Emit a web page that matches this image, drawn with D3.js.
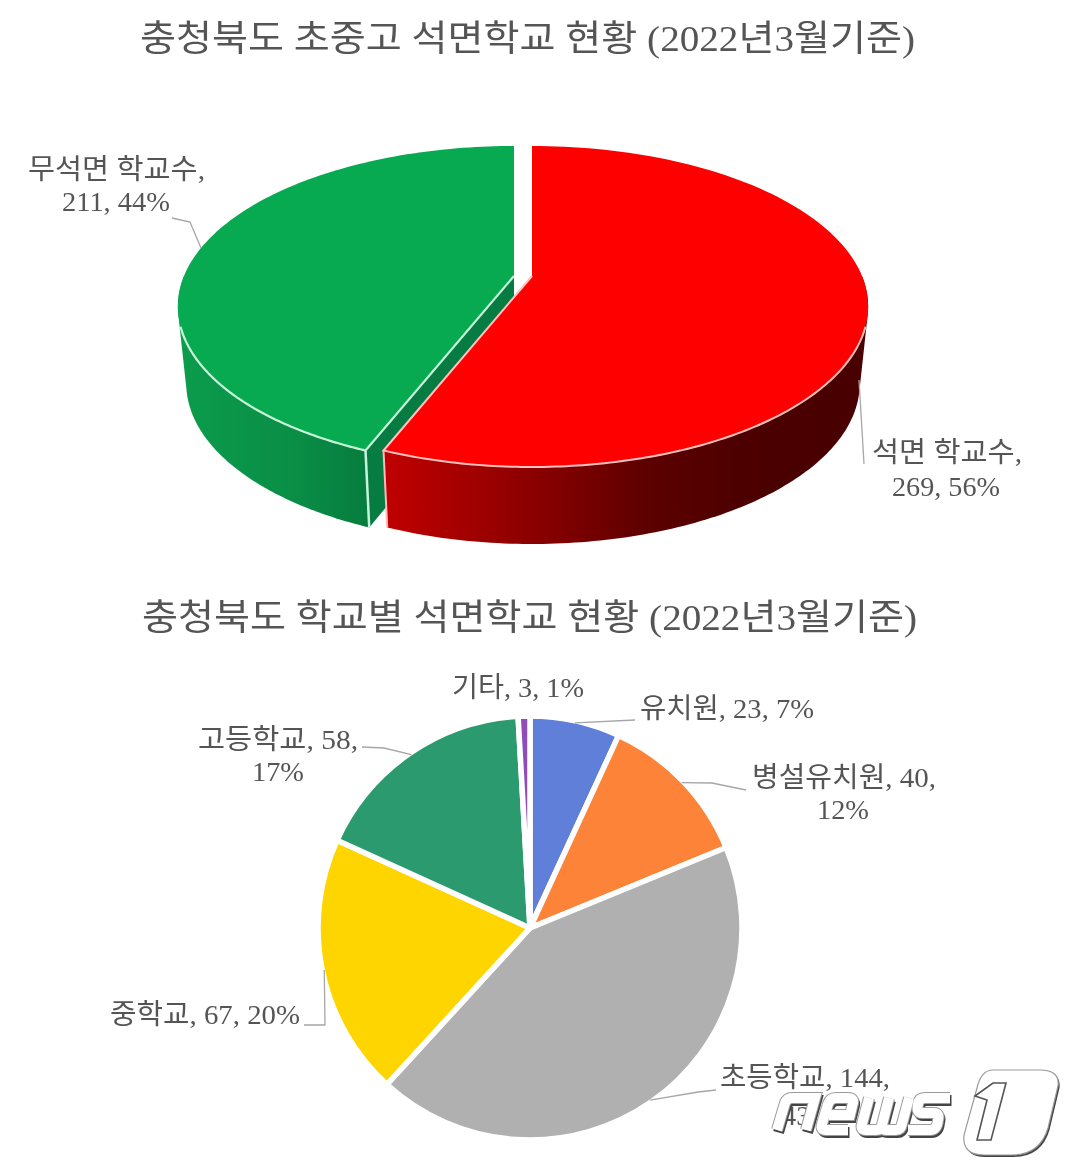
<!DOCTYPE html>
<html>
<head>
<meta charset="utf-8">
<script src="https://cdn.jsdelivr.net/npm/d3@7/dist/d3.min.js"></script>
<style>
html, body { margin: 0; padding: 0; background: #fff; }
svg { display: block; filter: blur(0.5px); }
text { font-family: "Liberation Serif", "Noto Sans CJK KR", serif; fill: #555; }
</style>
</head>
<body>
<svg id="chart" width="1065" height="1167"></svg>
<script>
const topCategories = ["석면 학교수", "무석면 학교수"];
const topValues = [269, 211];
const topPercents = [56, 44];
const topColors = ["#fe0000", "#07aa50"];

const schoolCategories = ["유치원", "병설유치원", "초등학교", "중학교", "고등학교", "기타"];
const schoolValues = [23, 40, 144, 67, 58, 3];
const schoolPercents = [7, 12, 43, 20, 17, 1];
const schoolColors = ["#5f7fd8", "#fd8339", "#b0b0b0", "#ffd500", "#2b9a6f", "#8f4db8"];

const svg = d3.select("#chart");
const defs = svg.append("defs");

const title = (s, x, y, w) => svg.append("text")
    .attr("x", x).attr("y", y)
    .attr("textLength", w).attr("lengthAdjust", "spacingAndGlyphs")
    .style("font-size", "36px")
    .text(s);

title("충청북도 초중고 석면학교 현황 (2022년3월기준)", 140, 51, 775);
title("충청북도 학교별 석면학교 현황 (2022년3월기준)", 142, 630, 775);

// text label, one entry per line: [string, left x, baseline y, width]
const label = (lines) => lines.forEach(l => {
    svg.append("text")
        .attr("x", l[1]).attr("y", l[2])
        .attr("textLength", l[3]).attr("lengthAdjust", "spacingAndGlyphs")
        .style("font-size", "28px")
        .text(l[0]);
});

const leader = (pts) => svg.append("path")
    .attr("d", d3.line()(pts))
    .attr("fill", "none")
    .attr("stroke", "#a6a6a6")
    .attr("stroke-width", 1.3);

// ---- top pie, tilted with a bit of perspective
const tilt = { apexY: 276, a: 330, k: 154.7, p: 0.19, depth: 77, shrink: 0.975 };
const project = (cx, ang, s, dy) => {
    const v = Math.cos(ang);
    const u = Math.sin(ang);
    const w = 1 + tilt.p * v;
    return [cx + s * tilt.a * u / w, tilt.apexY - tilt.k * v / w + dy];
};
const rim = (cx, a0, a1) => d3.range(0, 121).map(i =>
    project(cx, a0 + (a1 - a0) * i / 120, 1, 0));
const rimLow = (cx, a0, a1) => d3.range(0, 121).map(i =>
    project(cx, a0 + (a1 - a0) * i / 120, tilt.shrink, tilt.depth));

const topArcs = d3.pie().sort(null)(topValues);
const line = d3.line();
const topCx = [532, 514];

const grad = (id, stops, x1, x2) => {
    const g = defs.append("linearGradient").attr("id", id)
        .attr("gradientUnits", "userSpaceOnUse")
        .attr("x1", x1).attr("x2", x2).attr("y1", 0).attr("y2", 0);
    stops.forEach(s => g.append("stop").attr("offset", s[0]).attr("stop-color", s[1]));
};
grad("redWall", [[0, "#c00000"], [0.3, "#8c0000"], [0.55, "#5c0000"], [0.75, "#4c0000"], [1, "#480000"]], 385, 868);
grad("greenWall", [[0, "#0b9c4c"], [0.6, "#0a8e46"], [1, "#067c3e"]], 178, 370);

// green first: the red slice sits in front of its cut face
{
    const d = topArcs[1], cx = topCx[1];
    const hull = d3.polygonHull(rim(cx, d.startAngle, Math.PI * 1.5).concat(rimLow(cx, d.startAngle, Math.PI * 1.5)));
    svg.append("path").attr("d", line(hull) + "Z").attr("fill", "url(#greenWall)");
    const apex = [cx, tilt.apexY];
    const p0 = project(cx, d.startAngle, 1, 0);
    const p0Low = project(cx, d.startAngle, tilt.shrink, tilt.depth);
    svg.append("path")
        .attr("d", line([apex, p0, p0Low, [apex[0], apex[1] + tilt.depth]]) + "Z")
        .attr("fill", "#067c42");
    svg.append("path").attr("d", line([p0, p0Low]))
        .attr("stroke", "#c8f5da").attr("stroke-width", 2.5).attr("fill", "none");
    svg.append("path").attr("d", line([apex].concat(rim(cx, d.startAngle, d.endAngle))) + "Z")
        .attr("fill", topColors[1]);
    svg.append("path").attr("d", line([apex].concat(rim(cx, d.startAngle, Math.PI * 1.4))))
        .attr("fill", "none").attr("stroke", "#c8f5da").attr("stroke-width", 2.2);
}
{
    const d = topArcs[0], cx = topCx[0];
    const hull = d3.polygonHull(rim(cx, Math.PI * 0.5, d.endAngle).concat(rimLow(cx, Math.PI * 0.5, d.endAngle)));
    svg.append("path").attr("d", line(hull) + "Z").attr("fill", "url(#redWall)");
    const p1 = project(cx, d.endAngle, 1, 0);
    const p1Low = project(cx, d.endAngle, tilt.shrink, tilt.depth);
    svg.append("path").attr("d", line([p1, p1Low]))
        .attr("stroke", "#ffb8b8").attr("stroke-width", 2).attr("fill", "none");
    svg.append("path").attr("d", line([[cx, tilt.apexY]].concat(rim(cx, d.startAngle, d.endAngle))) + "Z")
        .attr("fill", topColors[0]);
    svg.append("path").attr("d", line(rim(cx, Math.PI * 0.6, d.endAngle).concat([[cx, tilt.apexY]])))
        .attr("fill", "none").attr("stroke", "#ffc0c0").attr("stroke-width", 2);
}

leader([[172, 218], [190, 222], [201, 248]]);
leader([[859, 380], [864, 464]]);
label([[topCategories[1] + ",", 28, 179, 177], [topValues[1] + ", " + topPercents[1] + "%", 62, 211, 108]]);
label([[topCategories[0] + ",", 872, 462, 150], [topValues[0] + ", " + topPercents[0] + "%", 892, 496, 108]]);

// ---- bottom pie
const cx2 = 530, cy2 = 928, r2 = 212;
const arcs2 = d3.pie().sort(null)(schoolValues);
const arc2 = d3.arc().innerRadius(0).outerRadius(r2);
const g2 = svg.append("g").attr("transform", `translate(${cx2},${cy2})`);
g2.selectAll("path").data(arcs2).join("path")
    .attr("d", arc2)
    .attr("fill", (d, i) => schoolColors[i])
    .attr("stroke", "#fff")
    .attr("stroke-width", 5.5)
    .attr("stroke-linejoin", "round");

const rimPoint = (i) => {
    const m = (arcs2[i].startAngle + arcs2[i].endAngle) / 2;
    return [cx2 + (r2 - 2) * Math.sin(m), cy2 - (r2 - 2) * Math.cos(m)];
};
leader([rimPoint(0), [635, 720]]);
leader([rimPoint(1), [712, 783], [746, 790]]);
leader([rimPoint(2), [698, 1092], [716, 1090]]);
leader([rimPoint(3), [325, 1025], [304, 1025]]);
leader([rimPoint(4), [384, 748], [362, 747]]);

const lab = (i) => schoolCategories[i] + ", " + schoolValues[i];
label([[lab(0) + ", " + schoolPercents[0] + "%", 640, 718, 174]]);
label([[lab(1) + ",", 752, 787, 184], [schoolPercents[1] + "%", 817, 819, 52]]);
label([[lab(2) + ",", 720, 1087, 170], [schoolPercents[2] + "%", 782, 1125, 52]]);
label([[lab(3) + ", " + schoolPercents[3] + "%", 110, 1024, 190]]);
label([[lab(4) + ",", 198, 749, 160], [schoolPercents[4] + "%", 252, 781, 52]]);
label([[lab(5) + ", " + schoolPercents[5] + "%", 452, 697, 132]]);

// ---- news1 watermark, sits on top of the last label like in the photo
const mark = svg.append("g");
mark.append("rect").attr("x", 809).attr("y", 1096).attr("width", 150).attr("height", 40).attr("fill", "#fff");
const letters = [
    "M777 1130 L785 1103 Q787 1098 792 1098 H815 L806 1130",
    "M829 1115 H850 L853 1103 Q854 1098 848 1098 H836 Q830 1098 828 1104 L822 1124 Q820 1130 826 1130 H848",
    "M869 1098 L862 1124 Q860 1130 866 1130 H876 Q881 1130 882 1125 L889 1098 M882 1125 Q881 1130 886 1130 H896 Q901 1130 902 1124 L909 1098",
    "M950 1098 H925 Q919 1098 918 1104 Q916 1113 922 1113 H934 Q940 1113 938 1120 Q937 1130 930 1130 H908"
];
const strokeLetters = (dx, dy, color, w) => letters.forEach(s => {
    mark.append("path").attr("d", s)
        .attr("transform", `translate(${dx},${dy})`)
        .attr("fill", "none").attr("stroke", color).attr("stroke-width", w)
        .attr("stroke-linejoin", "miter").attr("stroke-linecap", "butt");
});
strokeLetters(1.5, 2.5, "#444", 11);
strokeLetters(0, 0, "#9a9a9a", 12);
strokeLetters(0, 0, "#fff", 10);

const badge = "M993 1070 H1040 Q1060 1070 1058 1086 L1048 1128 Q1040 1155 1012 1155 H984 Q962 1155 964 1135 L977 1088 Q981 1070 993 1070 Z";
mark.append("path").attr("d", badge).attr("transform", "translate(1.5,2)").attr("fill", "#444");
mark.append("path").attr("d", badge).attr("fill", "#fff").attr("stroke", "#9a9a9a").attr("stroke-width", 1.2);
mark.append("path").attr("d", "M975 1096 L993 1083 H1006 L991 1140 H977 L987 1100 Z")
    .attr("fill", "#fff").attr("stroke", "#555").attr("stroke-width", 1.6);
</script>
</body>
</html>
